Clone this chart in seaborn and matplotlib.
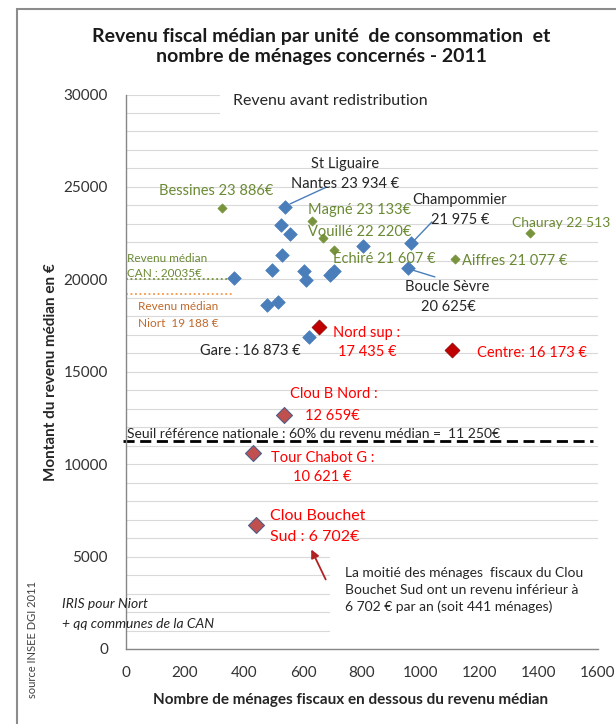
import numpy as np
import pandas as pd
import matplotlib
matplotlib.use("Agg")
import matplotlib.pyplot as plt
from matplotlib.patches import Rectangle
import seaborn as sns

# IRIS de Niort (bleu)
niort_menages = [538, 526, 556, 804, 966, 529, 956, 495, 367, 604, 610, 691, 704, 477, 515, 619]
niort_revenu = [23934, 22950, 22460, 21780, 21975, 21320, 20625, 20500, 20050, 20450, 19960, 20230, 20450, 18600, 18750, 16873]

# communes de la CAN (vert)
communes = ["Bessines", "Magné", "Vouillé", "Echiré", "Aiffres", "Chauray"]
can_menages = [326, 632, 668, 706, 1116, 1370]
can_revenu = [23886, 23133, 22220, 21607, 21077, 22513]

# IRIS sous le revenu median de Niort (rouge)
bas_noms = ["Nord sup", "Centre"]
bas_menages = [655, 1106]
bas_revenu = [17435, 16173]

# IRIS les plus pauvres
pauvres_noms = ["Clou B Nord", "Tour Chabot G", "Clou Bouchet Sud"]
pauvres_menages = [534, 431, 441]
pauvres_revenu = [12659, 10621, 6702]

median_can = 20035
median_niort = 19188
seuil = 11250

df = pd.concat([
    pd.DataFrame({"menages": niort_menages, "revenu": niort_revenu, "groupe": "niort"}),
    pd.DataFrame({"menages": can_menages, "revenu": can_revenu, "groupe": "can"}),
    pd.DataFrame({"menages": bas_menages, "revenu": bas_revenu, "groupe": "bas"}),
    pd.DataFrame({"menages": pauvres_menages, "revenu": pauvres_revenu, "groupe": "pauvres"}),
], ignore_index=True)

sns.set_style("white")
plt.rcParams['font.family'] = ['Lato', 'DejaVu Sans']

BLUE = "#4a7ebb"
GREEN = "#77933c"
DKRED = "#c00000"
BRRED = "#c0504d"
GTXT = "#6b8a34"
ORTXT = "#c0692b"
RTXT = "#ff0000"

fig = plt.figure(figsize=(6.16, 7.24), dpi=100)
ax = fig.add_axes([126/616, 1-649/724, 472/616, 554.5/724])

# cadre gris
fig.patches.append(Rectangle((17/616, -0.05), 1.1, 1.05-9/724, transform=fig.transFigure,
                             fill=False, edgecolor="#8c8c8c", linewidth=1.5))

ax.set_xlim(0, 1600)
ax.set_ylim(0, 30000)
ax.set_xticks(np.arange(0, 1601, 200))
ax.set_yticks(np.arange(0, 30001, 5000))
ax.set_yticks(np.arange(0, 30001, 1000), minor=True)
ax.grid(axis="y", which="both", color="#d9d9d9", linewidth=0.8)
ax.set_axisbelow(True)
ax.tick_params(length=0, which="both", labelsize=11, labelcolor="#333333")
ax.tick_params(axis="y", pad=13)
ax.tick_params(axis="x", pad=12)
for s in ["top", "right"]:
    ax.spines[s].set_visible(False)
for s in ["left", "bottom"]:
    ax.spines[s].set_color("#868686")
    ax.spines[s].set_linewidth(1)

# masques blancs des zones de texte
ax.add_patch(Rectangle((319, 28700), 1400, 1700, facecolor="white", edgecolor="none", zorder=1, clip_on=False))
ax.add_patch(Rectangle((692, 500), 1000, 4900, facecolor="white", edgecolor="none", zorder=1, clip_on=False))

styles = {
    "niort": dict(color=BLUE, s=48, edgecolor=BLUE, linewidth=0.5),
    "can": dict(color=GREEN, s=22, edgecolor=GREEN, linewidth=0.5),
    "bas": dict(color=DKRED, s=58, edgecolor="#8b0000", linewidth=0.5),
    "pauvres": dict(color=BRRED, s=66, edgecolor="#4d5e8a", linewidth=0.8),
}
for g, st in styles.items():
    sns.scatterplot(data=df[df.groupe == g], x="menages", y="revenu", marker="D",
                    ax=ax, zorder=3, legend=False, **st)

# lignes de reference
ax.plot([0, 360], [median_can, median_can], color=GREEN, linestyle=(0, (1, 1.5)), linewidth=1.3, zorder=2)
ax.plot([0, 360], [median_niort, median_niort], color="#f79646", linestyle=(0, (1, 1.5)), linewidth=1.3, zorder=2)
ax.plot([-10, 1583], [seuil, seuil], color="black", linestyle=(0, (4, 2)), linewidth=2, zorder=2, clip_on=False)

# traits de rappel
ax.plot([556, 681], [24080, 25000], color=BLUE, linewidth=1, zorder=2)
ax.plot([969, 1037], [21970, 23106], color=BLUE, linewidth=1, zorder=2)
ax.plot([959, 1047], [20563, 20130], color=BLUE, linewidth=1, zorder=2)

fs = 10.5
def lab(x, y, t, c="#262626", ha="center", size=fs, **kw):
    ax.text(x, y, t, color=c, ha=ha, va="center", fontsize=size, zorder=4, clip_on=False, **kw)

lab(363, 29670, "Revenu avant redistribution", ha="left", size=11.5)
lab(742, 26245, "St Liguaire")
lab(742, 25162, "Nantes 23 934 €")
lab(305, 24800, "Bessines 23 886€", c=GTXT)
lab(617, 23755, "Magné 23 133€", c=GTXT, ha="left")
lab(617, 22565, "Vouillé 22 220€", c=GTXT, ha="left")
lab(702, 21104, "Echiré 21 607 €", c=GTXT, ha="left")
lab(1132, 24297, "Champommier")
lab(1132, 23214, "21 975 €")
lab(1310, 23052, "Chauray 22 513", c=GTXT, ha="left", size=10)
lab(1139, 20996, "Aiffres 21 077 €", c=GTXT, ha="left")
lab(1088, 19589, "Boucle Sèvre")
lab(1092, 18506, "20 625€")
lab(1190, 16017, "Centre: 16 173 €", c=RTXT, ha="left")
lab(817, 17100, "Nord sup :", c=RTXT)
lab(817, 16071, "17 435 €", c=RTXT)
lab(420, 16125, "Gare : 16 873 €")
lab(3, 21104, "Revenu médian", c=GTXT, ha="left", size=8.5)
lab(3, 20292, "CAN : 20035€", c=GTXT, ha="left", size=8.5)
lab(41, 18506, "Revenu médian", c=ORTXT, ha="left", size=8.5)
lab(41, 17587, "Niort  19 188 €", c=ORTXT, ha="left", size=8.5)
lab(705, 13799, "Clou B Nord :", c=RTXT)
lab(698, 12608, "12 659€", c=RTXT)
lab(3, 11634, "Seuil référence nationale : 60% du revenu médian =  11 250€", ha="left", size=10)
lab(668, 10335, "Tour Chabot G :", c=RTXT)
lab(664, 9307, "10 621 €", c=RTXT)
lab(488, 7197, "Clou Bouchet", c=RTXT, ha="left", size=11.5)
lab(488, 6061, "Sud : 6 702€", c=RTXT, ha="left", size=11.5)
lab(742, 3193, "La moitié des ménages  fiscaux du Clou\nBouchet Sud ont un revenu inférieur à\n6 702 € par an (soit 441 ménages)",
    ha="left", size=10, linespacing=1.45)
lab(-217, 2435, "IRIS pour Niort", ha="left", size=10, style="italic")
lab(-217, 1353, "+ qq communes de la CAN", ha="left", size=10, style="italic")

ax.annotate("", xy=(624, 5519), xytext=(681, 3626),
            arrowprops=dict(arrowstyle="-|>", color="#b22222", linewidth=1.3, mutation_scale=12), zorder=4)

ax.set_xlabel("Nombre de ménages fiscaux en dessous du revenu médian", fontsize=11, fontweight="bold", color="#262626")
ax.set_ylabel("Montant du revenu médian en €", fontsize=11, fontweight="bold", color="#262626")
ax.xaxis.set_label_coords(0.475, -0.079)
ax.yaxis.set_label_coords(-0.145, 0.5)

fig.text(0.522, 0.936, "Revenu fiscal médian par unité  de consommation  et\nnombre de ménages concernés - 2011",
         ha="center", va="center", fontsize=14, fontweight="bold", linespacing=1.25, color="#1a1a1a")
fig.text(32/616, 1-639/724, "source INSEE DGI 2011", rotation=90, ha="center", va="center",
         fontsize=8, color="#404040")

fig.savefig("out.png", dpi=100)
